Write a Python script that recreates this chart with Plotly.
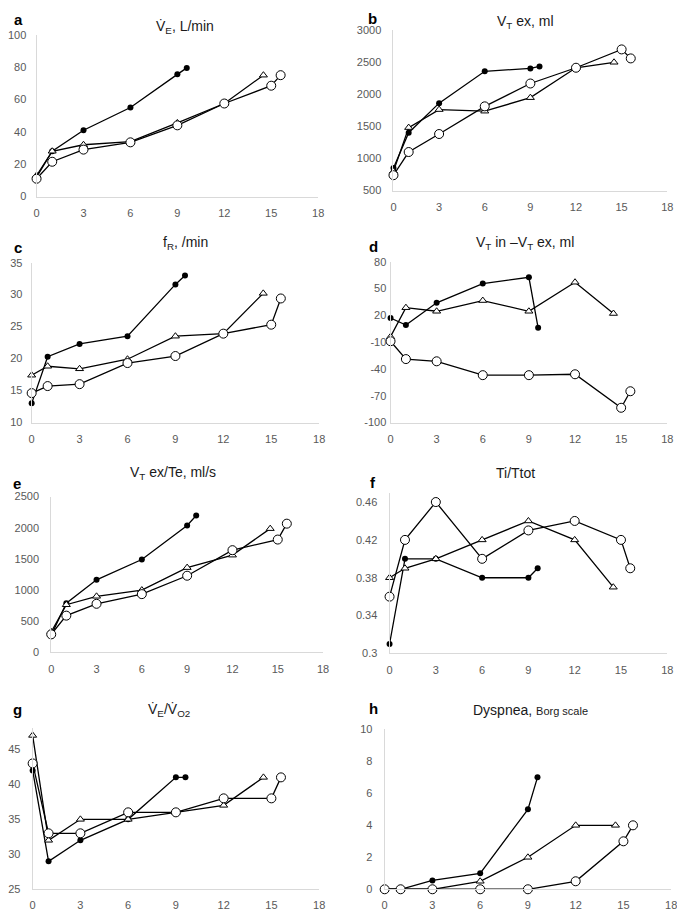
import plotly.graph_objects as go

# ---- data ----
x_black = [0, 1, 3, 6, 9, 9.6]
x_tri = [0, 1, 3, 6, 9, 12, 14.5]
x_circ = [0, 1, 3, 6, 9, 12, 15, 15.6]

a_black = [12, 28, 41, 55, 75.5, 79.5]
a_tri = [13, 28, 32, 34, 45.5, 57.5, 75]
a_circ = [11, 21.5, 29, 33.5, 44, 57.5, 68.5, 75]

b_black = [850, 1400, 1860, 2355, 2400, 2430]
b_tri = [800, 1480, 1760, 1735, 1945, 2410, 2495]
b_circ = [740, 1100, 1380, 1810, 2165, 2410, 2695, 2555]

c_black = [13, 20.3, 22.3, 23.5, 31.6, 33]
c_tri = [17.4, 18.8, 18.4, 19.9, 23.5, 23.9, 30.2]
c_circ = [14.6, 15.7, 16, 19.3, 20.4, 23.9, 25.3, 29.4]

d_black = [17, 9, 34, 55.5, 62.5, 6]
d_tri = [-4, 28.5, 24.5, 36.5, 24.5, 57, 22]
d_circ = [-9, -29, -31.5, -47, -47, -46, -83.5, -65]

e_black = [275, 790, 1165, 1490, 2035, 2195]
e_tri = [330, 765, 900, 1000, 1360, 1560, 1985]
e_circ = [290, 590, 780, 935, 1230, 1640, 1810, 2065]

f_black = [0.31, 0.40, 0.40, 0.38, 0.38, 0.39]
f_tri = [0.38, 0.39, 0.40, 0.42, 0.44, 0.42, 0.37]
f_circ = [0.36, 0.42, 0.46, 0.40, 0.43, 0.44, 0.42, 0.39]

g_black = [42, 29, 32, 35, 41, 41]
g_tri = [47, 32, 35, 35, 36, 37, 41]
g_circ = [43, 33, 33, 36, 36, 38, 38, 41]

h_black = [0, 0, 0.55, 1, 5, 7]
h_tri = [0, 0, 0, 0.5, 2, 4, 4]
h_circ = [0, 0, 0, 0, 0, 0.5, 3, 4]

x_ticks = [0, 3, 6, 9, 12, 15, 18]

# page body has an 8px margin; work in window pixels and shift
OFF = 8
W, H = 685 - OFF, 915 - OFF


def px(v):
    return (v - OFF) / W


def py(v):
    return 1 - (v - OFF) / H


panels = [
    # letter, title, data, box (x0,x1,ytop,ybot), y range, y ticks, tick text, letter pos, title pos, y label standoff
    ("a", "V\u0307<sub>E</sub>, L/min", (a_black, a_tri, a_circ), (28, 316, 29, 193), [0, 100],
     [0, 20, 40, 60, 80, 100], None, (10, 14), (180, 21), 7),
    ("b", "V<sub>T</sub> ex, ml", (b_black, b_tri, b_circ), (393, 673, 24, 187), [500, 3000],
     [500, 1000, 1500, 2000, 2500, 3000], None, (372, 13), (528, 16), 9),
    ("c", "f<sub>R</sub>, /min", (c_black, c_tri, c_circ), (23, 317, 260, 422), [10, 35],
     [10, 15, 20, 25, 30, 35], None, (9, 245), (180, 240), 6),
    ("d", "V<sub>T</sub> in \u2013V<sub>T</sub> ex, ml", (d_black, d_tri, d_circ), (390, 673, 259, 422), [-100, 80],
     [-100, -70, -40, -10, 20, 50, 80], None, (373, 244), (528, 240), 1),
    ("e", "V<sub>T</sub> ex/Te, ml/s", (e_black, e_tri, e_circ), (43, 321, 497, 655), [0, 2500],
     [0, 500, 1000, 1500, 2000, 2500], None, (8, 484), (168, 473), 9),
    ("f", "Ti/Ttot", (f_black, f_tri, f_circ), (389, 673, 493, 656), [0.3, 0.47],
     [0.3, 0.34, 0.38, 0.42, 0.46], ["0.3", "0.34", "0.38", "0.42", "0.46"], (372, 483), (518, 473), 9),
    ("g", "V\u0307<sub>E</sub>/V\u0307<sub>O2</sub>", (g_black, g_tri, g_circ), (24, 317, 732, 895), [25, 48],
     [25, 30, 35, 40, 45], None, (9, 713), (163, 713), 9),
    ("h", "Dyspnea, <span style='font-size:11px'>Borg scale</span>", (h_black, h_tri, h_circ), (384, 677, 733, 895), [0, 10],
     [0, 2, 4, 6, 8, 10], None, (373, 712), (533, 713), 9),
]

fig = go.Figure()
annotations = []
tick_font = dict(family="Liberation Sans, Arial, sans-serif", size=11, color="#595959")
line_style = dict(color="black", width=1.3)

for i, (letter, title, (yb, yt, yc), box, yr, yticks, ytext, lpos, tpos, ystand) in enumerate(panels):
    n = "" if i == 0 else str(i + 1)
    xa, ya = "x" + n, "y" + n
    x0, x1, ytop, ybot = box
    fig.add_trace(go.Scatter(x=x_black, y=yb, xaxis=xa, yaxis=ya, mode="lines+markers",
                             line=line_style, marker=dict(symbol="circle", size=6, color="black"),
                             showlegend=False, cliponaxis=False))
    fig.add_trace(go.Scatter(x=x_tri, y=yt, xaxis=xa, yaxis=ya, mode="lines+markers",
                             line=line_style,
                             marker=dict(symbol="triangle-up", size=7, color="white",
                                         line=dict(color="black", width=1)),
                             showlegend=False, cliponaxis=False))
    fig.add_trace(go.Scatter(x=x_circ, y=yc, xaxis=xa, yaxis=ya, mode="lines+markers",
                             line=line_style,
                             marker=dict(symbol="circle", size=9, color="white",
                                         line=dict(color="black", width=1)),
                             showlegend=False, cliponaxis=False))
    xkey = "xaxis" + n
    ykey = "yaxis" + n
    fig.update_layout(**{
        xkey: dict(domain=[px(x0), px(x1)], anchor=ya, range=[0, 18], tickvals=x_ticks,
                   showgrid=False, zeroline=False, showline=True, linecolor="#d9d9d9",
                   linewidth=1, ticks="", tickfont=tick_font, fixedrange=True,
                   ticklabelstandoff=6),
        ykey: dict(domain=[py(ybot), py(ytop)], anchor=xa, range=yr, tickvals=yticks,
                   ticktext=ytext if ytext else [str(v) for v in yticks],
                   showgrid=False, zeroline=False, showline=True, linecolor="#d9d9d9",
                   linewidth=1, ticks="", tickfont=tick_font, fixedrange=True,
                   ticklabelstandoff=ystand),
    })
    annotations.append(dict(text="<b>" + letter + "</b>", x=px(lpos[0]), y=py(lpos[1]),
                            xref="paper", yref="paper", showarrow=False, xanchor="center",
                            yanchor="middle",
                            font=dict(family="Liberation Sans, Arial, sans-serif", size=15, color="black")))
    annotations.append(dict(text=title, x=px(tpos[0]), y=py(tpos[1]),
                            xref="paper", yref="paper", showarrow=False, xanchor="center",
                            yanchor="middle",
                            font=dict(family="Liberation Sans, Arial, sans-serif", size=14, color="#1a1a1a")))

fig.update_layout(width=W, height=H, margin=dict(l=0, r=0, t=0, b=0),
                  paper_bgcolor="white", plot_bgcolor="white", annotations=annotations)

fig.write_html("out.html")
